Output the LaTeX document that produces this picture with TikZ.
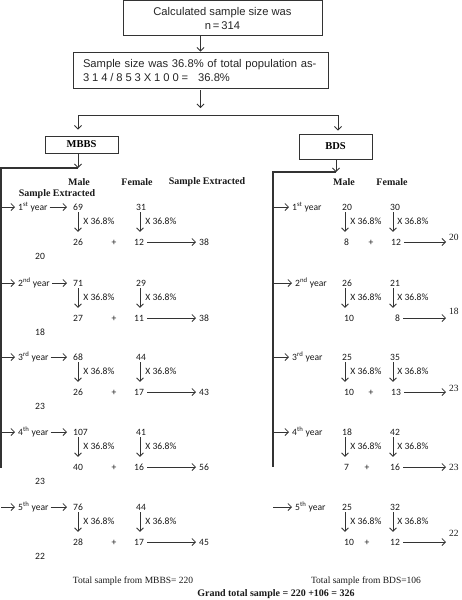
\documentclass[tikz,border=0pt]{standalone}
\usepackage{fontspec}
\setmainfont{Liberation Serif}
\newfontfamily\arialf{Liberation Sans}
\newfontfamily\calf{Carlito}
\usetikzlibrary{arrows.meta}
\begin{document}
\begin{tikzpicture}[x=1pt,y=-1pt,
  ln/.style={draw=black!80, line width=0.8pt},
  frame/.style={draw=black!80, line width=1.1pt},
  arr/.style={ln, -{Straight Barb[length=3.5pt,width=7pt]}},
  darr/.style={arr, shorten <=1pt, shorten >=5.8pt},
  box/.style={draw=black!80, line width=0.9pt, inner sep=0pt},
  boxtxt/.style={font=\arialf\fontsize{11.2}{14}\selectfont, text=black!85},
  cal/.style={font=\calf\fontsize{9.6}{11}\selectfont, text=black!90, inner sep=1pt},
  num/.style={cal, text height=6.3pt, text depth=0pt},
  hdr/.style={font=\bfseries\fontsize{10}{12}\selectfont, text=black!90, inner sep=0pt},
  tms/.style={font=\fontsize{9.5}{11}\selectfont, text=black!90, inner sep=1pt}]
\useasboundingbox (0,0) rectangle (462,600);

% top boxes
\node[box, boxtxt, minimum width=199pt, minimum height=35pt, align=center] (top) at (222.5,18) {Calculated sample size was\\n\,=\,314};
\node[box, boxtxt, minimum width=255pt, minimum height=36pt, text width=235pt, inner xsep=10pt, align=left] (pop) at (200.5,70)
  {Sample size was 36.8\% of total population as-\\{\addfontfeature{LetterSpace=26}314/853X100=}\hspace{10pt}36.8\%};
\draw[arr] (pop.north |- top.south) -- (pop.north);
\coordinate (split) at (200.5,108);
\draw[arr, shorten <=2pt] (pop.south) -- (split);

\coordinate (hl) at (78,115);
\coordinate (hr) at (338,115);
\draw[ln] (hl) -- (hr);

\node[box, minimum width=73pt, minimum height=17pt, font=\bfseries\fontsize{10.5}{12}\selectfont] (mbbs) at (81.5,144.5) {MBBS};
\node[box, minimum width=73pt, minimum height=25pt, font=\bfseries\fontsize{10.5}{12}\selectfont] (bds) at (335.5,146.5) {BDS};
\draw[arr, shorten >=6pt] (hl) -- (hl |- mbbs.north);
\draw[arr, shorten >=3pt] (hr) -- (hr |- bds.north);

% MBBS frame
\coordinate (mj) at (78,168);
\coordinate (mt) at (1,168);
\coordinate (mb) at (1,468);
\draw[arr] (mj |- mbbs.south) -- (mj);
\draw[frame] (mj) -- (mt) -- (mb);

% BDS frame
\coordinate (bj) at (336,172);
\coordinate (bt) at (273,172);
\coordinate (bb) at (273,467);
\draw[arr] (bj |- bds.south) -- (bj);
\draw[frame] (bj) -- (bt) -- (bb);

% headers
\node[hdr] (hm1) at (79,182) {Male};
\node[hdr] (hf1) at (137,182) {Female};
\node[hdr] (hs1) at (207,182) {Sample Extracted};
\node[hdr] (hs2) at (57,194) {Sample Extracted};
\node[hdr] (hm2) at (344,182) {Male};
\node[hdr] (hf2) at (392,182) {Female};

% MBBS rows
\foreach \k/\y/\n/\s/\m/\f/\mv/\fv/\t/\x in {1/207/1/st/69/31/26/12/38/20, 2/283/2/nd/71/29/27/11/38/18, 3/357/3/rd/68/44/26/17/43/23, 4/432/4/th/107/41/40/16/56/23, 5/507/5/th/76/44/28/17/45/22}{
  \coordinate (Lc\k) at (1,\y);
  \node[cal, anchor=west] (Ly\k) at (17,\y) {\n\textsuperscript{\s} year};
  \node[num, anchor=west] (Lm\k) at (72,\y) {\m};
  \node[num, anchor=west] (Lf\k) at (135,\y) {\f};
  \node[num, anchor=west] (Lv\k) at (72,\y+35) {\mv};
  \node[num] (Lp\k) at (114,\y+35) {+};
  \node[num, anchor=west] (Lw\k) at (133,\y+35) {\fv};
  \node[num, anchor=west] (Lt\k) at (198,\y+35) {\t};
  \node[num] (Lx\k) at (40,\y+49) {\x};
  \draw[arr, shorten >=2pt] (Lc\k) -- (Ly\k.west);
  \draw[arr, shorten <=1pt, shorten >=5pt] (Ly\k.east) -- (Lm\k.west);
  \draw[darr] ([xshift=6pt]Lm\k.south west) -- ([xshift=6pt]Lv\k.north west)
     node[cal, pos=.37, anchor=west, xshift=4pt] {X 36.8\%};
  \draw[darr] ([xshift=5pt]Lf\k.south west) -- ([xshift=7pt]Lw\k.north west)
     node[cal, pos=.37, anchor=west, xshift=4pt] {X 36.8\%};
  \draw[arr, shorten <=2pt, shorten >=2pt] (Lw\k.east) -- (Lt\k.west);
}

% BDS rows
\foreach \k/\y/\yx/\n/\s/\m/\f/\mv/\px/\fx/\fv/\t/\r in {1/207/291/1/st/20/30/8/371/390/12/20/5, 2/283/294/2/nd/26/21/10/0/394/8/18/7, 3/357/291/3/rd/25/35/10/371/390/13/23/4, 4/432/291/4/th/18/42/7/367/389/16/23/0, 5/507/294/5/th/25/32/10/367/389/12/22/9}{
  \coordinate (Rc\k) at (273,\y);
  \node[cal, anchor=west] (Ry\k) at (\yx,\y) {\n\textsuperscript{\s} year};
  \node[num, anchor=west] (Rm\k) at (341,\y) {\m};
  \node[num, anchor=west] (Rf\k) at (389,\y) {\f};
  \node[num, anchor=west] (Rv\k) at (343,\y+35) {\mv};
  \ifnum\k=2\else\node[num] (Rp\k) at (\px,\y+35) {+};\fi
  \node[num, anchor=west] (Rw\k) at (\fx,\y+35) {\fv};
  \node[tms, anchor=west] (Rt\k) at (448,\y+35-\r) {\t};
  \draw[arr, shorten >=2pt] (Rc\k) -- (Ry\k.west);
  \coordinate (Ra\k) at ([xshift=4pt]Rm\k.south west);
  \coordinate (Rb\k) at ([xshift=4pt]Rf\k.south west);
  \draw[darr] (Ra\k) -- (Ra\k |- Rv\k.north)
     node[cal, pos=.37, anchor=west, xshift=4pt] {X 36.8\%};
  \draw[darr] (Rb\k) -- (Rb\k |- Rw\k.north)
     node[cal, pos=.37, anchor=west, xshift=3pt] {X 36.8\%};
  \draw[arr, shorten <=2pt, shorten >=2pt] (Rw\k.east) -- (Rw\k.east -| Rt\k.west);
}

% totals
\node[tms] (totm) at (133,581) {Total sample from MBBS= 220};
\node[tms] (totb) at (366,581) {Total sample from BDS=106};
\node[font=\bfseries\fontsize{10}{12}\selectfont, text=black!90, inner sep=1pt] (grand) at (276,594) {Grand total sample = 220 +106 = 326};
\end{tikzpicture}
\end{document}
